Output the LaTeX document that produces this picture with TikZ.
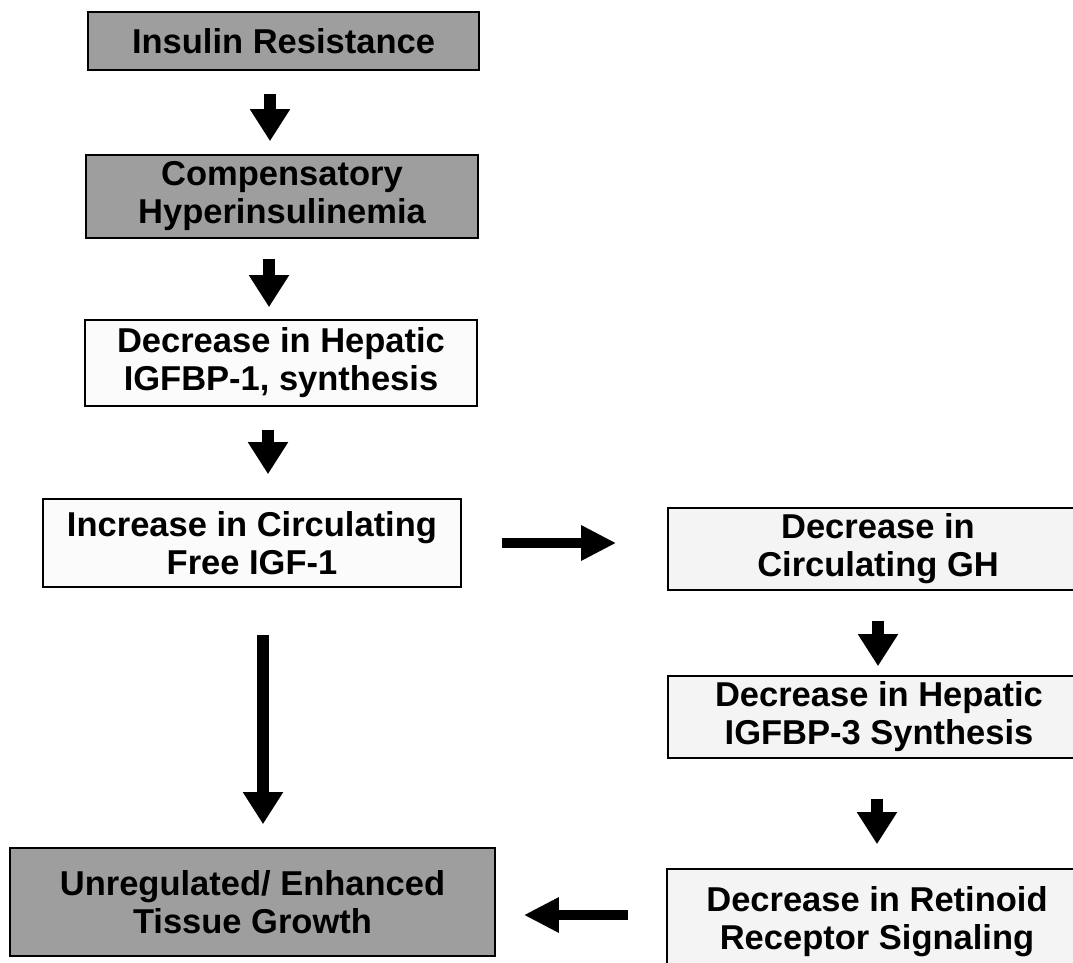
\documentclass[tikz,border=0pt]{standalone}
\usepackage{fontspec}
\setmainfont{Liberation Sans}
\usetikzlibrary{arrows.meta,calc}
\definecolor{boxgray}{RGB}{158,158,158}
\definecolor{offwhite}{RGB}{244,244,244}
\definecolor{nearwhite}{RGB}{251,251,251}
\begin{document}
\begin{tikzpicture}[x=1pt,y=1pt,
  box/.style={draw=black, line width=1.6pt, inner sep=0pt, align=center,
    font=\bfseries\fontsize{34.5}{38}\selectfont, text=black},
  greybox/.style={box, fill=boxgray},
  whitebox/.style={box, fill=nearwhite},
  lightbox/.style={box, fill=offwhite},
  varrow/.style={line width=12pt, -{Triangle[width=38pt,length=32pt]}},
  harrow/.style={line width=10pt, -{Triangle[width=33pt,length=35pt]}}
]
\useasboundingbox (0,0) rectangle (1073,-963);
\clip (0,0) rectangle (1073,-963);
\fill[white] (0,0) rectangle (1073,-963);

\node[greybox, minimum width=391pt, minimum height=58pt] (b1) at (283.5,-41) {Insulin Resistance};
\node[greybox, minimum width=392pt, minimum height=83pt] (b2) at (282,-196.5) {Compensatory\\Hyperinsulinemia};
\node[whitebox, minimum width=392pt, minimum height=86pt] (b3) at (281,-363) {Decrease in Hepatic\\IGFBP-1, synthesis};
\node[whitebox, minimum width=418pt, minimum height=88pt] (b4) at (252,-543) {Increase in Circulating\\Free IGF-1};
\node[lightbox, minimum width=420pt, minimum height=82pt] (b5) at (878,-549) {Decrease in\\Circulating GH};
\node[lightbox, minimum width=422pt, minimum height=82pt] (b6) at (879,-717) {Decrease in Hepatic\\IGFBP-3 Synthesis};
\node[lightbox, minimum width=420pt, minimum height=105pt] (b7) at (877,-921.5) {Decrease in Retinoid\\Receptor Signaling};
\node[greybox, minimum width=485pt, minimum height=108pt] (b8) at (252.5,-902) {Unregulated/ Enhanced\\Tissue Growth};

\coordinate (c1) at (270,0);
\coordinate (c2) at (269,0);
\coordinate (c3) at (268,0);
\coordinate (c4) at (263,0);
\coordinate (c5) at (878,0);
\coordinate (c6) at (877,0);
\coordinate (r1) at (0,-543);
\coordinate (r2) at (0,-915);

\draw[varrow, shorten <=23pt, shorten >=13pt] (b1.south -| c1) -- (b2.north -| c1);
\draw[varrow, shorten <=20pt, shorten >=12pt] (b2.south -| c2) -- (b3.north -| c2);
\draw[varrow, shorten <=23pt, shorten >=24pt] (b3.south -| c3) -- (b4.north -| c3);
\draw[varrow, shorten <=47pt, shorten >=23pt] (b4.south -| c4) -- (b8.north -| c4);
\draw[harrow, shorten <=40pt, shorten >=51pt] (b4.east |- r1) -- (b5.west |- r1);
\draw[varrow, shorten <=30pt, shorten >=9pt] (b5.south -| c5) -- (b6.north -| c5);
\draw[varrow, shorten <=40pt, shorten >=24pt] (b6.south -| c6) -- (b7.north -| c6);
\draw[harrow, shorten <=38pt, shorten >=28pt] (b7.west |- r2) -- (b8.east |- r2);
\end{tikzpicture}
\end{document}
